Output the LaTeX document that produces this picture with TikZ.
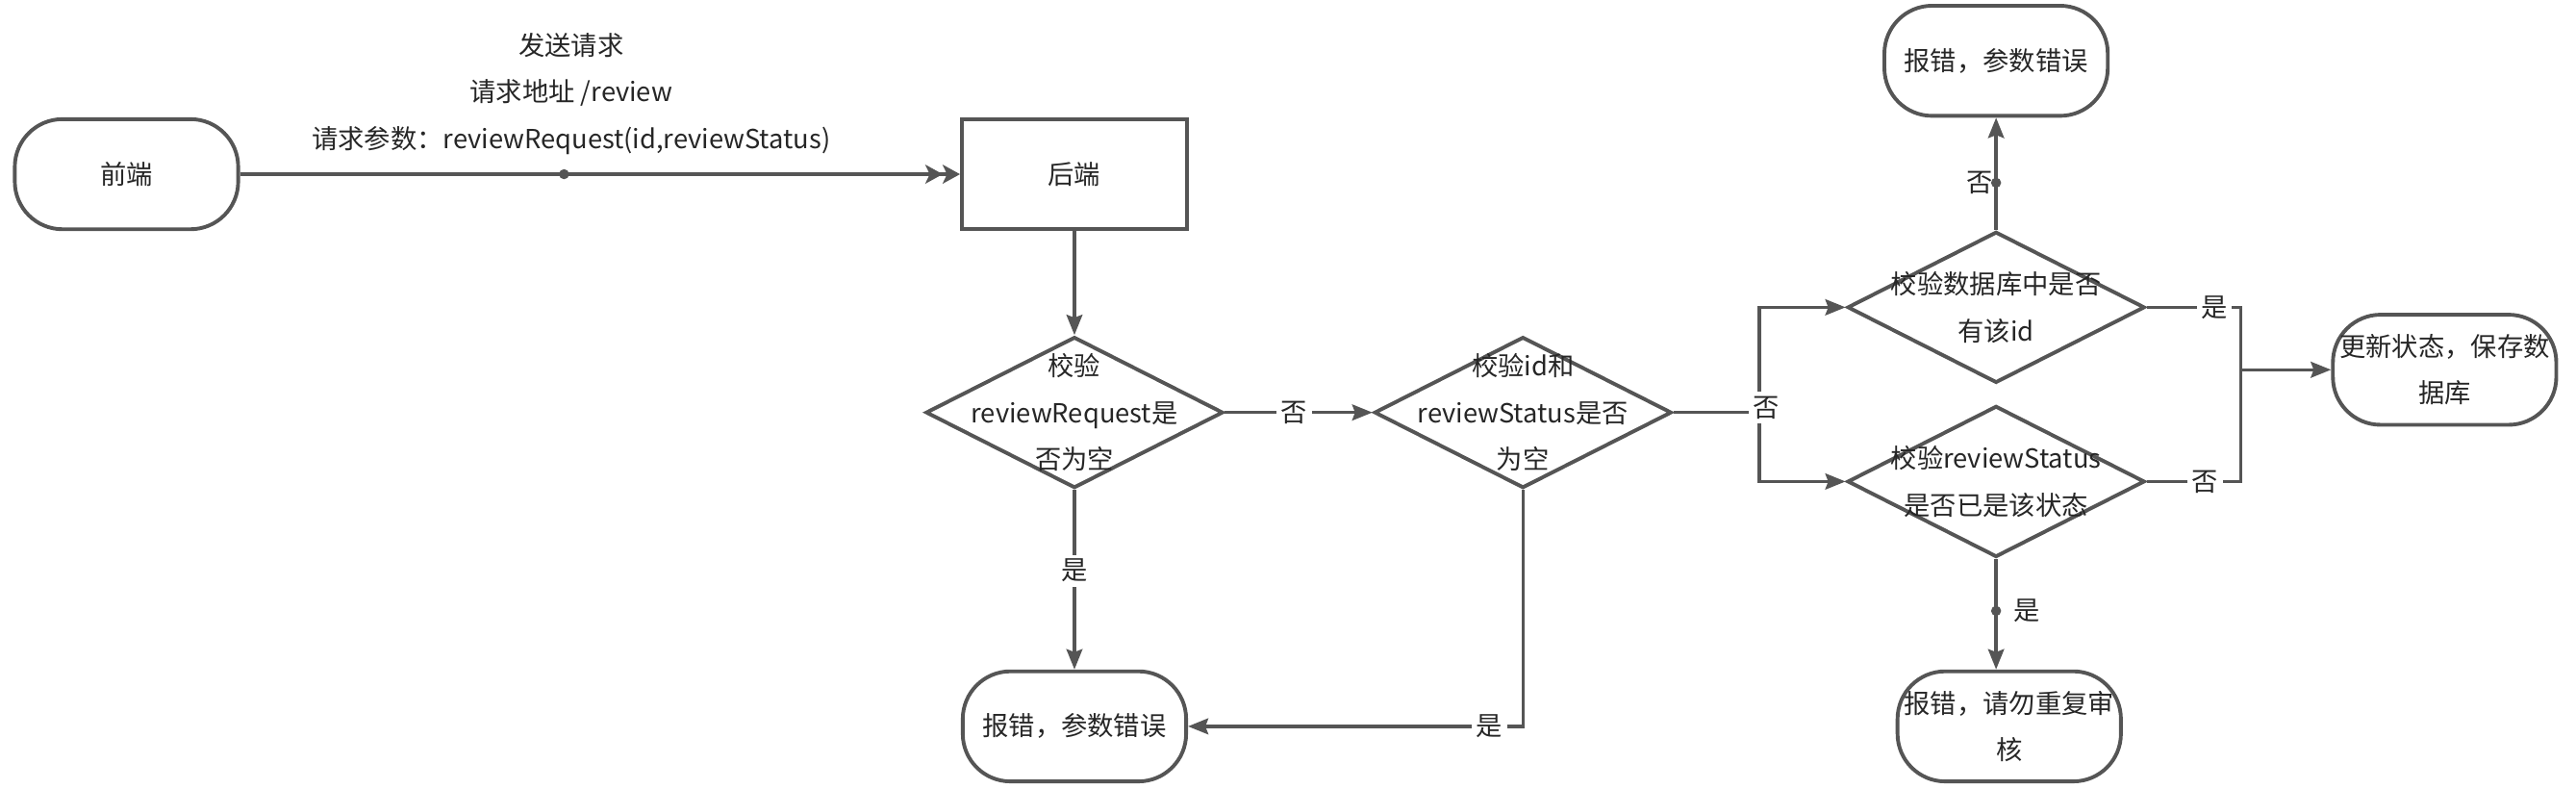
\documentclass[tikz,border=0pt]{standalone}
\usepackage{fontspec}
\newfontfamily\cjk{Noto Sans CJK SC}
\usepackage{tikz}
\usetikzlibrary{arrows.meta,shapes.geometric,positioning}
\definecolor{linegray}{HTML}{555555}
\definecolor{textgray}{HTML}{262626}
\tikzset{>={Stealth[length=7pt,width=5.5pt,inset=1pt]}}
\tikzset{
    txt/.style={text=textgray,font=\cjk\fontsize{9.1pt}{16.2pt}\selectfont,align=center,inner sep=0pt},
    base/.style={txt,draw=linegray,line width=1.3pt},
    terminal/.style={base,rectangle,rounded corners=0.58cm,minimum width=2.72cm,minimum height=1.34cm},
    process/.style={base,rectangle,minimum width=2.74cm,minimum height=1.34cm},
    decision/.style={base,diamond,minimum width=3.62cm,minimum height=1.84cm},
    edgelabel/.style={txt,fill=white,inner sep=1.5pt},
    dot/.style={circle,fill=linegray,inner sep=0pt,minimum size=3.5pt},
    plain/.style={draw=linegray,line width=1.15pt},
    directed/.style={plain,->},
    wide/.style={draw=linegray,line width=1.6pt,
        -{Stealth[length=6pt,width=6.5pt,inset=1.5pt]Stealth[length=6pt,width=6.5pt,inset=1.5pt]}},
}

\begin{document}
\begin{tikzpicture}[x=0.02cm,y=-0.02cm]
    \useasboundingbox (0,0) rectangle (1568,480);

    \node[terminal] (fe)   at (77,106)   {前端};
    \node[process]  (be)   at (654,106)  {后端};
    \node[decision] (d1)   at (654,251)  {};
    \node[txt]      (d1t)  at (d1)       {校验\\reviewRequest是\\否为空};
    \node[decision] (d2)   at (927,251)  {};
    \node[txt]      (d2t)  at (d2)       {校验id和\\reviewStatus是否\\为空};
    \node[terminal] (err1) at (654,442)  {报错，参数错误};
    \node[decision] (d3)   at (1215,187) {};
    \node[txt]      (d3t)  at (d3)       {校验数据库中是否\\有该id};
    \node[decision] (d4)   at (1215,293) {};
    \node[txt]      (d4t)  at (d4)       {校验reviewStatus\\是否已是该状态};
    \node[terminal] (err2) at (1215,37)  {报错，参数错误};
    \node[terminal] (upd)  at (1488,225) {更新状态，保存数\\据库};
    \node[terminal] (err3) at (1223,442) {报错，请勿重复审\\核};

    \coordinate (j1) at (1071,251);
    \coordinate (j2) at (1364,225);

    \draw[wide] (fe) -- node[dot,pos=0.45] (m1) {}
        node[txt,pos=0.46,yshift=0.98cm] (req) {发送请求\\请求地址 /review\\请求参数：reviewRequest(id,reviewStatus)} (be);
    \draw[directed] (be) -- (d1.north);
    \draw[directed] (d1.east) -- node[edgelabel,pos=0.47] (n1) {否} (d2.west);
    \draw[directed] (d1.south) -- node[edgelabel,pos=0.45] (n2) {是} (err1.north);
    \draw[directed] (d2.south) |- node[edgelabel,pos=0.55] (n3) {是} (err1.east);
    \draw[plain] (d2.east) -- (j1);
    \draw[directed] (j1) |- (d3.west);
    \draw[directed] (j1) |- (d4.west);
    \node[edgelabel] (n4) at (1075,248) {否};
    \draw[directed] (d3.north) -- node[dot,pos=0.42] (m2) {}
        node[txt,pos=0.42,left=0.5pt] (n5) {否} (err2.south);
    \draw[plain] (d3.east) -| node[edgelabel,pos=0.36] (n6) {是} (j2);
    \draw[plain] (d4.east) -| node[edgelabel,pos=0.31] (n7) {否} (j2);
    \draw[directed] (j2) -- (upd.west);
    \draw[directed] (d4.south) -- node[dot,pos=0.47] (m3) {}
        node[txt,pos=0.47,right=0.2cm] (n8) {是} (d4.south |- err3.north);
\end{tikzpicture}
\end{document}
